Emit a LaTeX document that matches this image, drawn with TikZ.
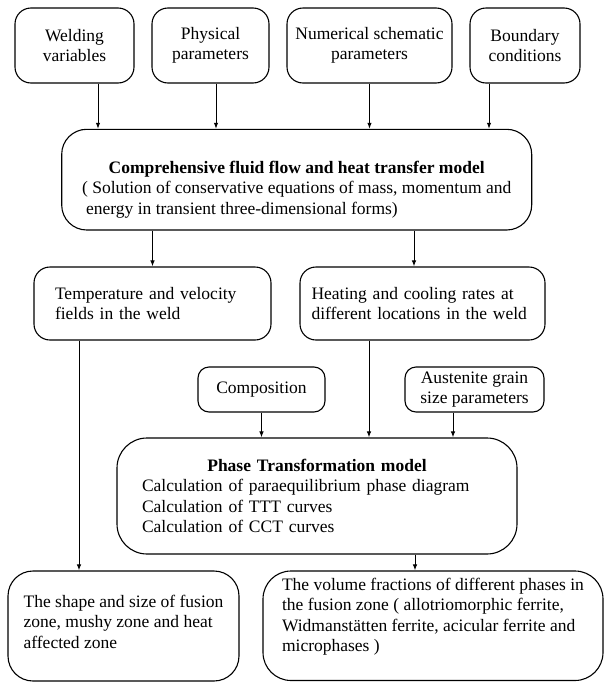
\documentclass[tikz,border=0pt]{standalone}
\usepackage{fontspec}
\setmainfont{Liberation Serif}
\usetikzlibrary{arrows.meta}

\begin{document}
\begin{tikzpicture}[x = 1pt, y = -1pt,
  box/.style = {draw, line width = 1.1pt, rounded corners = 16pt, inner sep = 0pt,
    align = center, font = \fontsize{17.5}{20.5}\selectfont},
  flow/.style = {-{Latex[length = 6pt, width = 4.5pt]}, line width = 1pt}]
\useasboundingbox (0,0) rectangle (604,683);
\node[box, minimum width = 119pt, minimum height = 75pt] (wv) at (74.5,45.5) {Welding\\variables};
\node[box, minimum width = 117pt, minimum height = 75pt] (pp) at (210.5,45.5) {Physical\\parameters};
\node[box, minimum width = 165pt, minimum height = 75pt] (ns) at (369.5,45.5) {Numerical schematic\\parameters};
\node[box, minimum width = 110pt, minimum height = 75pt] (bc) at (525,45.5) {Boundary\\conditions};
\node[box, rounded corners = 25pt, minimum width = 470pt,
  text height = 43.7pt, text depth = 57pt] (model) at (296.7,179.65)
  {\begin{tabular}[t]{@{}l@{}}
   \multicolumn{1}{@{}c@{}}{\bfseries Comprehensive fluid flow and heat transfer model}\\
   ( Solution of conservative equations of mass, momentum and\\
   \hspace*{4pt}energy in transient three-dimensional forms)
   \end{tabular}};
\node[box, minimum width = 237pt, minimum height = 73pt, text width = 195pt, align = left] (temp) at (152.5,303.5)
  {Temperature and velocity\\fields in the weld};
\node[box, minimum width = 245pt, minimum height = 73pt, text width = 222pt, align = left] (rates) at (422.5,303.5)
  {Heating and cooling rates at\\different locations in the weld};
\node[box, rounded corners = 11pt, minimum width = 127pt, minimum height = 45pt] (comp) at (261.5,389.5) {Composition};
\node[box, rounded corners = 11pt, minimum width = 139pt, minimum height = 45pt] (grain) at (474.5,389.5)
  {Austenite grain\\size parameters};
\node[box, rounded corners = 30pt, minimum width = 400pt, minimum height = 116pt, text width = 350pt, align = left] (phase) at (317,496)
  {\centerline{\bfseries Phase Transformation model}
   Calculation of paraequilibrium phase diagram\\
   Calculation of TTT curves\\
   Calculation of CCT curves};
\node[box, rounded corners = 25pt, minimum width = 231pt,
  text height = 36pt, text depth = 74pt] (shape) at (123.5,626)
  {\begin{tabular}[t]{@{}l@{}}
   The shape and size of fusion\\
   zone, mushy zone and heat\\
   affected zone
   \end{tabular}};
\node[box, rounded corners = 28pt, minimum width = 340pt,
  text height = 19pt, text depth = 90.5pt] (frac) at (433,625.75)
  {\begin{tabular}[t]{@{}l@{}}
   The volume fractions of different phases in\\
   the fusion zone ( allotriomorphic ferrite,\\
   Widmanstätten ferrite, acicular ferrite and\\
   microphases )
   \end{tabular}};
\draw[flow] (98,0 |- wv.south) -- (98,0 |- model.north);
\draw[flow] (216,0 |- pp.south) -- (216,0 |- model.north);
\draw[flow] (ns.south) -- (ns.south |- model.north);
\draw[flow] (489,0 |- bc.south) -- (489,0 |- model.north);
\draw[flow] (temp.north |- model.south) -- (temp.north);
\draw[flow] (414,0 |- model.south) -- (414,0 |- rates.north);
\draw[flow] (79,0 |- temp.south) -- (79,0 |- shape.north);
\draw[flow] (369,0 |- rates.south) -- (369,0 |- phase.north);
\draw[flow] (comp.south) -- (comp.south |- phase.north);
\draw[flow] (453,0 |- grain.south) -- (453,0 |- phase.north);
\draw[flow] (415,0 |- phase.south) -- (415,0 |- frac.north);

\end{tikzpicture}
\end{document}
